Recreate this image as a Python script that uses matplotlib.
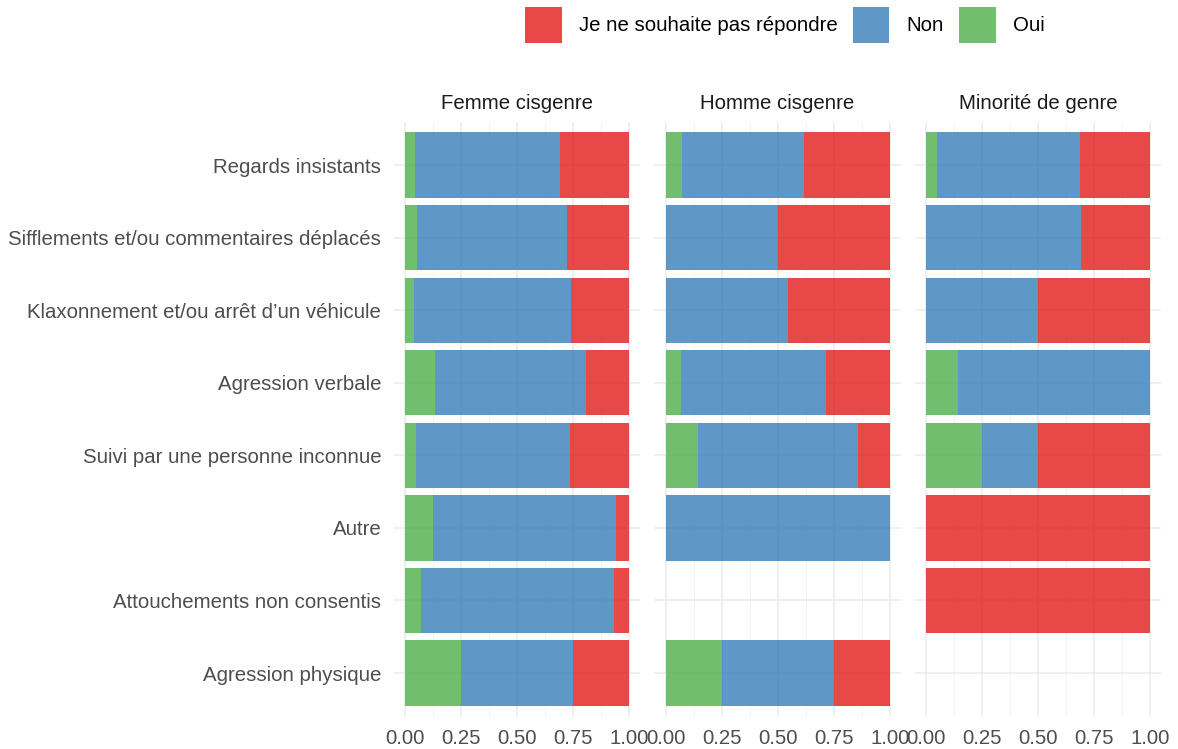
import matplotlib
matplotlib.use("Agg")
import matplotlib.pyplot as plt
from matplotlib.patches import Patch
import numpy as np

plt.rcParams['font.family'] = ['Liberation Sans', 'DejaVu Sans']

categories = [
    "Regards insistants",
    "Sifflements et/ou commentaires déplacés",
    "Klaxonnement et/ou arrêt d’un véhicule",
    "Agression verbale",
    "Suivi par une personne inconnue",
    "Autre",
    "Attouchements non consentis",
    "Agression physique",
]
facets = ["Femme cisgenre", "Homme cisgenre", "Minorité de genre"]
responses = ["Je ne souhaite pas répondre", "Non", "Oui"]

# proportions per facet, per category (NaN = no bar)
oui = {
    "Femme cisgenre":    [0.045, 0.054, 0.040, 0.134, 0.049, 0.125, 0.073, 0.25],
    "Homme cisgenre":    [0.074, 0.0, 0.0, 0.071, 0.143, 0.0, np.nan, 0.25],
    "Minorité de genre": [0.050, 0.0, 0.0, 0.143, 0.25, 0.0, 0.0, np.nan],
}
non = {
    "Femme cisgenre":    [0.645, 0.669, 0.701, 0.674, 0.688, 0.817, 0.860, 0.50],
    "Homme cisgenre":    [0.544, 0.500, 0.545, 0.643, 0.714, 1.0, np.nan, 0.50],
    "Minorité de genre": [0.636, 0.694, 0.500, 0.857, 0.25, 0.0, 0.0, np.nan],
}
jnspr = {
    "Femme cisgenre":    [0.310, 0.277, 0.259, 0.192, 0.263, 0.058, 0.067, 0.25],
    "Homme cisgenre":    [0.382, 0.500, 0.455, 0.286, 0.143, 0.0, np.nan, 0.25],
    "Minorité de genre": [0.314, 0.306, 0.500, 0.0, 0.50, 1.0, 1.0, np.nan],
}
x_ticks = [0.0, 0.25, 0.5, 0.75, 1.0]
x_ticklabels = ["0.00", "0.25", "0.50", "0.75", "1.00"]

colors = {"Je ne souhaite pas répondre": "#E41A1C", "Non": "#377EB8", "Oui": "#4DAF4A"}
ALPHA = 0.8
FS = 14.7

W, H = 1178, 749
fig = plt.figure(figsize=(W / 100, H / 100), dpi=100)
fig.patch.set_facecolor("white")

panel_left_px = [393.8, 654.3, 914.6]
panel_w_px = 246.6
panel_top_px, panel_bot_px = 121.5, 716.6

y = np.arange(len(categories))
for i, f in enumerate(facets):
    ax = fig.add_axes([panel_left_px[i] / W, 1 - panel_bot_px / H,
                       panel_w_px / W, (panel_bot_px - panel_top_px) / H])
    ax.set_facecolor("white")
    o = np.array(oui[f], dtype=float)
    n = np.array(non[f], dtype=float)
    j = np.array(jnspr[f], dtype=float)
    mask = ~np.isnan(o)
    ym = y[mask]
    ax.barh(ym, o[mask], height=0.9, color=colors["Oui"], alpha=ALPHA, linewidth=0, zorder=2)
    ax.barh(ym, n[mask], left=o[mask], height=0.9, color=colors["Non"], alpha=ALPHA, linewidth=0, zorder=2)
    ax.barh(ym, j[mask], left=o[mask] + n[mask], height=0.9,
            color=colors["Je ne souhaite pas répondre"], alpha=ALPHA, linewidth=0, zorder=2)
    ax.set_xlim(-0.05, 1.05)
    ax.set_ylim(len(categories) - 1 + 0.6, -0.6)
    ax.set_xticks(x_ticks)
    ax.set_xticklabels(x_ticklabels)
    ax.set_xticks([0.125, 0.375, 0.625, 0.875], minor=True)
    ax.set_yticks(y)
    if i == 0:
        ax.set_yticklabels(categories)
    else:
        ax.set_yticklabels([])
    ax.tick_params(axis="both", which="both", length=0)
    ax.tick_params(axis="y", pad=9, labelsize=FS, labelcolor="#4D4D4D")
    ax.tick_params(axis="x", pad=9, labelsize=FS, labelcolor="#4D4D4D")
    ax.grid(True, which="major", color="#EBEBEB", linewidth=1.1, zorder=0)
    ax.grid(True, which="minor", axis="x", color="#F3F3F3", linewidth=0.6, zorder=0)
    ax.set_axisbelow(True)
    for s in ax.spines.values():
        s.set_visible(False)
    ax.set_title(f, fontsize=FS, color="#1A1A1A", pad=9)

handles = [Patch(facecolor=colors[r], alpha=ALPHA, edgecolor="none", label=r) for r in responses]
fig.legend(handles=handles, loc="center", bbox_to_anchor=(785 / W, 1 - 25 / H), ncol=3,
           frameon=False, fontsize=FS, handlelength=1.78, handleheight=2.34,
           handletextpad=0.85, columnspacing=0.75, borderaxespad=0)

fig.savefig("out.png", dpi=100, facecolor="white")
